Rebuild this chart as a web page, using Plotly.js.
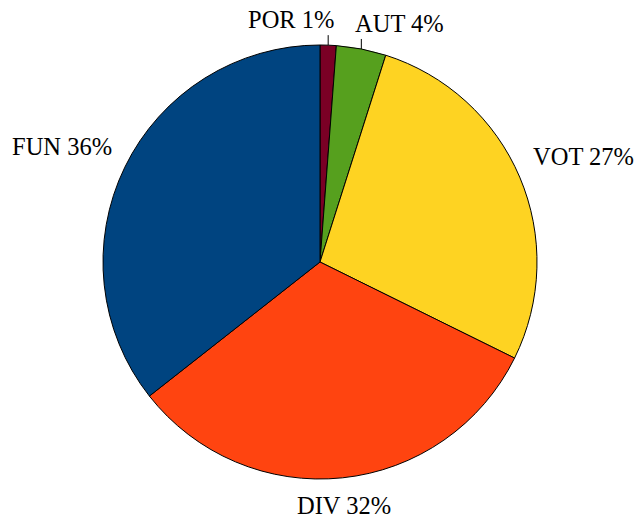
<!DOCTYPE html>
<html><head><meta charset="utf-8">
<script src="https://cdn.plot.ly/plotly-3.0.1.min.js"></script>
<style>html,body{margin:0;padding:0;background:#fff}</style>
</head><body>
<div id="chart" style="width:636px;height:520px"></div>
<script>
const labels = ["POR", "AUT", "VOT", "DIV", "FUN"];
const values = [1.2, 3.7, 27.4, 32.1, 35.6];
const colors = ["#7a0025", "#56a01e", "#fed322", "#ff4410", "#004480"];

const FONT = {family: "Liberation Serif", size: 24.5, color: "#000"};
const total = values.reduce((a, b) => a + b, 0);
const annotations = [];
const shapes = [];
let cum = 0;
let smallIdx = 0;
values.forEach((v, i) => {
  const mid = (cum + v / 2) / total * 2 * Math.PI; // clockwise from 12 o'clock
  cum += v;
  const s = Math.sin(mid), c = Math.cos(mid);
  const ex = 0.5 + 0.5 * s, ey = 0.5 + 0.5 * c; // edge point in paper coords
  const text = labels[i] + " " + Math.round(v / total * 100) + "%";
  if (v / total < 0.05 && c > 0) {
    // small slice at top: vertical leader tick, label above
    const right = (smallIdx % 2 === 0);
    smallIdx++;
    shapes.push({type: "line", xref: "paper", yref: "paper", ysizemode: "pixel", yanchor: ey,
      x0: ex, x1: ex, y0: 0, y1: 10, line: {color: "#000", width: 1}});
    annotations.push({xref: "paper", yref: "paper", x: ex, y: ey, text: text, showarrow: false,
      xanchor: right ? "right" : "left", yanchor: "bottom",
      xshift: right ? 8 : -8, yshift: 10, font: FONT});
  } else {
    annotations.push({xref: "paper", yref: "paper", x: ex, y: ey, text: text, showarrow: false,
      xanchor: s > 0.3 ? "left" : (s < -0.3 ? "right" : "center"),
      yanchor: c > 0 ? "bottom" : "top",
      xshift: 12 * s, yshift: 12 * c, font: FONT});
  }
});

Plotly.newPlot("chart", [{
  type: "pie",
  labels: labels,
  values: values,
  sort: false,
  direction: "clockwise",
  rotation: 0,
  marker: {colors: colors, line: {color: "#000", width: 1}},
  textinfo: "none",
  showlegend: false,
  hoverinfo: "none"
}], {
  width: 636, height: 520,
  margin: {l: 103, r: 99, t: 45, b: 41},
  paper_bgcolor: "#fff",
  font: FONT,
  showlegend: false,
  annotations: annotations,
  shapes: shapes
}, {displayModeBar: false, staticPlot: true});
</script>
</body></html>
